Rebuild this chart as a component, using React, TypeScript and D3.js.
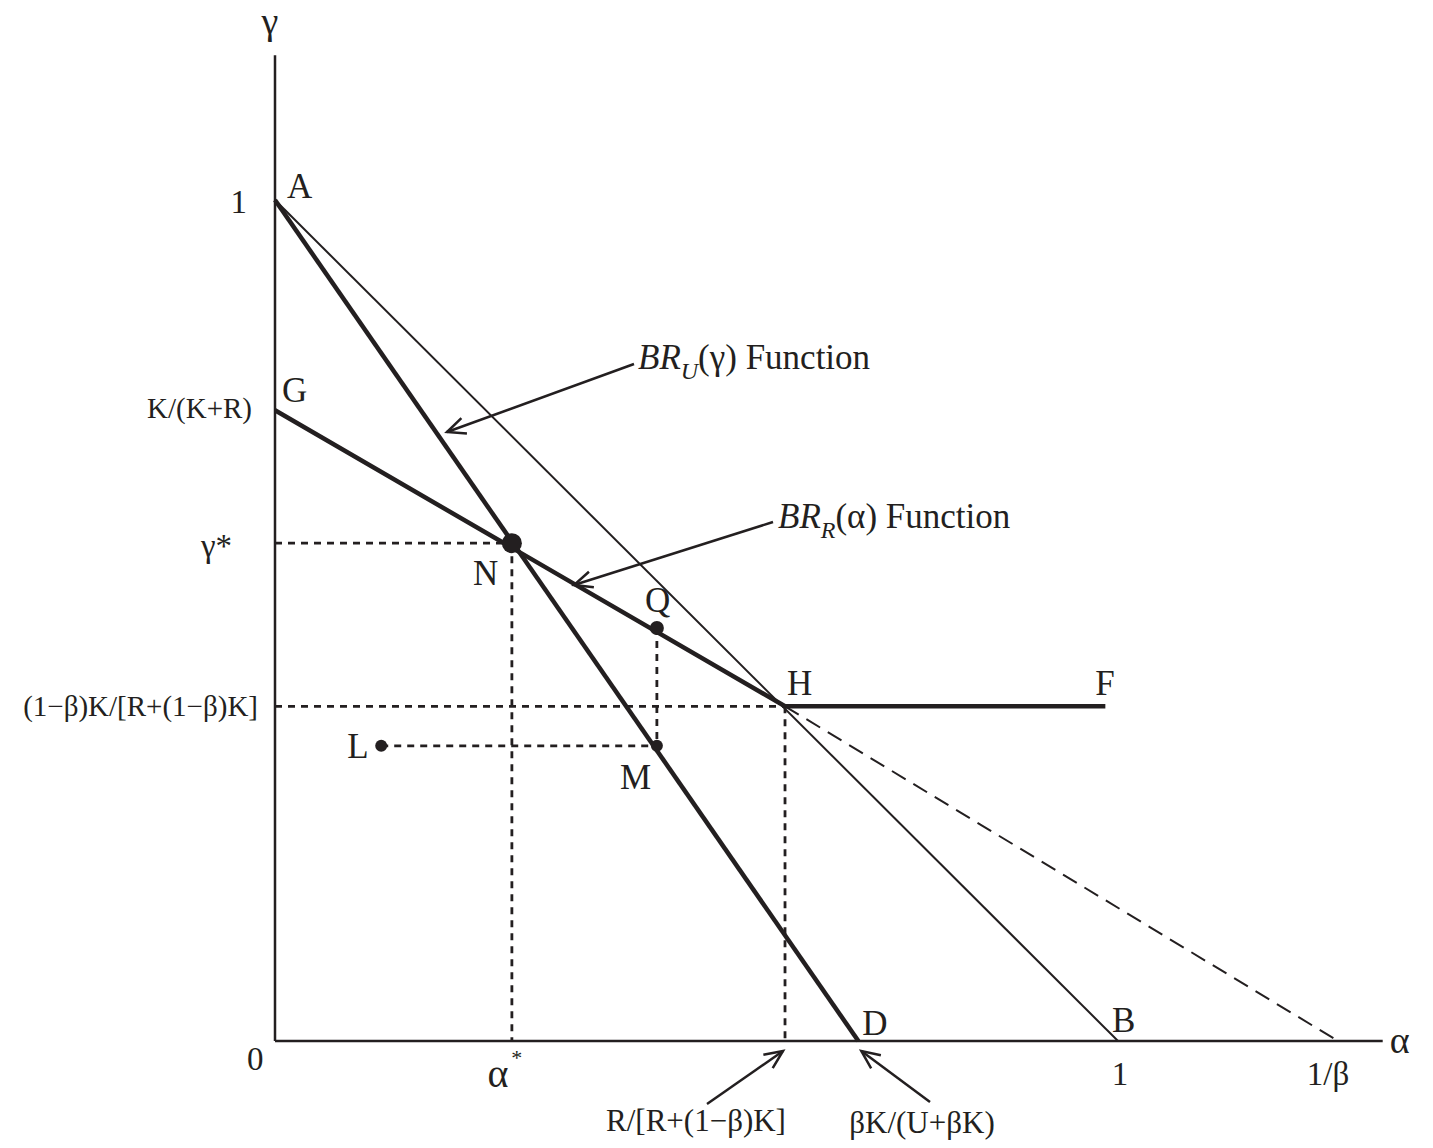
import React from 'react';
import * as d3 from 'd3';

// key points (α, γ)
const pointNames = ['A', 'G', 'N', 'Q', 'H', 'F', 'L', 'M', 'D', 'B', 'Z'];
const pointAlpha = [0, 0, 0.281, 0.453, 0.605, 0.985, 0.126, 0.453, 0.692, 1, 1.261];
const pointGamma = [1, 0.75, 0.592, 0.491, 0.398, 0.398, 0.351, 0.351, 0, 0, 0];

const dotNames = ['N', 'Q', 'M', 'L'];
const dotRadius = [10, 7, 6, 6];

const xTickValues = [0.281, 1, 1.261];
const xTickLabels = ['α', '1', '1/β'];
const yTickValues = [1, 0.75, 0.592, 0.398];
const yTickLabels = ['1', 'K/(K+R)', 'γ*', '(1−β)K/[R+(1−β)K]'];

const W = 1433;
const H = 1148;
const ink = '#231f20';
const font = '"Liberation Serif", "Times New Roman", serif';

const P = (n: string): [number, number] => {
  const i = pointNames.indexOf(n);
  return [pointAlpha[i], pointGamma[i]];
};

export default function App() {
  const x = d3.scaleLinear().domain([0, 1]).range([275, 1118]);
  const y = d3.scaleLinear().domain([0, 1]).range([1041, 200]);
  const line = d3.line<[number, number]>().x(d => x(d[0])).y(d => y(d[1]));

  const labelOffsets: Record<string, [number, number]> = {
    A: [12, -2], G: [7, -8], N: [-39, 42], Q: [-12, -16],
    H: [2, -11], F: [-10, -11], L: [-34, 12], M: [-37, 43],
    D: [4, -6], B: [-6, -9],
  };

  const yLabelStyle: [number, number, number][] = [
    [-28, 13, 33], [-23, 8, 29], [-43, 14, 33], [-17, 10, 29],
  ];
  const xLabelShift = [-7, 2, -10];

  const dotted: [number, number][][] = [
    [[0, P('N')[1]], P('N')],
    [P('N'), [P('N')[0], 0]],
    [[0, P('H')[1]], P('H')],
    [P('H'), [P('H')[0], 0]],
    [P('Q'), P('M')],
    [P('L'), P('M')],
  ];

  const arrow = (x1: number, y1: number, x2: number, y2: number, key: string) => {
    const a = Math.atan2(y2 - y1, x2 - x1);
    const L = 20, s = 0.42;
    const p1 = [x2 - L * Math.cos(a - s), y2 - L * Math.sin(a - s)];
    const p2 = [x2 - L * Math.cos(a + s), y2 - L * Math.sin(a + s)];
    return (
      <g key={key} stroke={ink} strokeWidth={2.5} fill="none">
        <line x1={x1} y1={y1} x2={x2} y2={y2} />
        <polyline points={`${p1[0]},${p1[1]} ${x2},${y2} ${p2[0]},${p2[1]}`} />
      </g>
    );
  };

  return (
    <svg width={W} height={H} style={{ position: 'absolute', left: 0, top: 0, background: '#fff' }}
      fontFamily={font} fill={ink}>
      {/* axes */}
      <line x1={x(0)} y1={y(0)} x2={x(0)} y2={y(1.172)} stroke={ink} strokeWidth={2.5} />
      <line x1={x(0)} y1={y(0)} x2={x(1.314)} y2={y(0)} stroke={ink} strokeWidth={2.5} />
      <text x={x(0) - 5} y={34} fontSize={38} textAnchor="middle">γ</text>
      <text x={x(1.314) + 7} y={y(0) + 12} fontSize={38}>α</text>
      <text x={x(0) - 28} y={y(0) + 29} fontSize={33}>0</text>

      {/* tick labels */}
      {yTickValues.map((v, i) => (
        <text key={'y' + i} x={x(0) + yLabelStyle[i][0]} y={y(v) + yLabelStyle[i][1]}
          fontSize={yLabelStyle[i][2]} textAnchor="end">{yTickLabels[i]}</text>
      ))}
      {xTickValues.map((v, i) => (
        <text key={'x' + i} x={x(v) + xLabelShift[i]} y={y(0) + (i === 0 ? 46 : 44)} fontSize={i === 0 ? 40 : 33} textAnchor="middle">
          {xTickLabels[i]}
          {i === 0 && <tspan fontSize={22} dx={3} dy={-22}>*</tspan>}
        </text>
      ))}

      {/* guide lines */}
      {dotted.map((d, i) => (
        <path key={'d' + i} d={line(d) || ''} stroke={ink} strokeWidth={2.8} strokeDasharray="7,6" fill="none" />
      ))}
      <path d={line([P('H'), P('Z')]) || ''} stroke={ink} strokeWidth={2} strokeDasharray="16,9" fill="none" />
      <path d={line([P('A'), P('B')]) || ''} stroke={ink} strokeWidth={2} fill="none" />

      {/* best response functions */}
      <path d={line([P('A'), P('D')]) || ''} stroke={ink} strokeWidth={4.5} fill="none" />
      <path d={line([P('G'), P('H'), P('F')]) || ''} stroke={ink} strokeWidth={4.5} fill="none" />

      {dotNames.map((n, i) => (
        <circle key={n} cx={x(P(n)[0])} cy={y(P(n)[1])} r={dotRadius[i]} fill={ink} />
      ))}

      {Object.keys(labelOffsets).map(n => (
        <text key={'l' + n} x={x(P(n)[0]) + labelOffsets[n][0]} y={y(P(n)[1]) + labelOffsets[n][1]}
          fontSize={35}>{n}</text>
      ))}

      {/* annotations */}
      <text x={638} y={369} fontSize={35}>
        <tspan fontStyle="italic">BR</tspan>
        <tspan fontStyle="italic" fontSize={24} dy={10}>U</tspan>
        <tspan dy={-10}>(γ) Function</tspan>
      </text>
      {arrow(634, 364, 447, 432, 'a1')}
      <text x={778} y={528} fontSize={35}>
        <tspan fontStyle="italic">BR</tspan>
        <tspan fontStyle="italic" fontSize={24} dy={10}>R</tspan>
        <tspan dy={-10}>(α) Function</tspan>
      </text>
      {arrow(773, 522, 574, 585, 'a2')}

      <text x={696} y={1131} fontSize={31} textAnchor="middle">R/[R+(1−β)K]</text>
      {arrow(707, 1104, x(P('H')[0]) - 2, y(0) + 10, 'a3')}
      <text x={922} y={1133} fontSize={31} textAnchor="middle">βK/(U+βK)</text>
      {arrow(930, 1102, x(P('D')[0]) + 3, y(0) + 10, 'a4')}
    </svg>
  );
}
